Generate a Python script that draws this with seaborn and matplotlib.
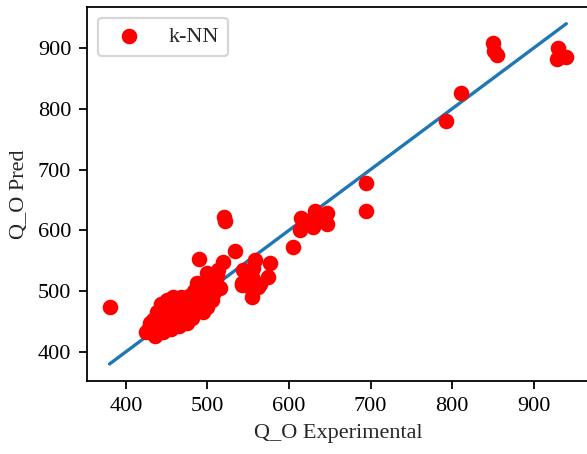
import matplotlib
matplotlib.use("Agg")
import matplotlib.pyplot as plt
import seaborn as sns
import pandas as pd

# Experimental vs predicted values (k-NN)
exp_vals = [
    380,
    850, 851, 855, 930, 929, 940,
    811, 793, 695, 695, 605,
    615, 632, 647, 614, 630, 647, 625, 635,
    520, 521, 534, 490, 519, 558, 577, 544, 555, 574, 543, 562, 555, 516,
    556, 542, 552, 565,
    425, 428, 430, 432, 435, 437, 438, 440, 442, 443, 445, 446, 448, 450,
    450, 452, 455, 456, 458, 460, 462, 463, 465, 467, 468, 470, 472, 474,
    475, 477, 478, 480, 481, 483, 485, 486, 488, 490, 490, 492, 494, 495,
    497, 498, 500, 501, 503, 505, 507, 510, 512, 500, 513, 487, 436, 447,
    455, 462, 470, 433, 438, 452, 466, 479,
]
pred_vals = [
    474,
    908, 895, 888, 900, 882, 885,
    826, 780, 678, 631, 573,
    620, 632, 628, 600, 605, 610, 615, 622,
    622, 615, 566, 552, 548, 551, 546, 535, 523, 523, 510, 507, 490, 505,
    538, 513, 507, 512,
    432, 440, 448, 435, 430, 445, 455, 438, 465, 478, 450, 432, 470, 485,
    445, 460, 438, 475, 490, 452, 465, 482, 443, 470, 490, 455, 478, 462,
    448, 492, 470, 483, 455, 500, 465, 478, 490, 470, 505, 482, 495, 466,
    510, 488, 474, 520, 500, 485, 495, 512, 525, 530, 534, 513, 426, 436,
    445, 450, 447, 452, 465, 478, 488, 460,
]
series_label = "k-NN"
x_label = "Q_O Experimental"
y_label = "Q_O Pred"
x_ticks = [400, 500, 600, 700, 800, 900]
y_ticks = [400, 500, 600, 700, 800, 900]

df = pd.DataFrame({"exp": exp_vals, "pred": pred_vals})
diag = pd.DataFrame({"x": [min(exp_vals), max(exp_vals)],
                     "y": [min(exp_vals), max(exp_vals)]})

sns.set_theme(style="ticks")
plt.rcParams["font.family"] = ["Liberation Serif", "DejaVu Serif"]
plt.rcParams["font.size"] = 10
plt.rcParams["axes.labelsize"] = 10
plt.rcParams["xtick.labelsize"] = 10
plt.rcParams["ytick.labelsize"] = 10
plt.rcParams["legend.fontsize"] = 10
plt.rcParams["axes.linewidth"] = 0.8
plt.rcParams["xtick.major.width"] = 0.8
plt.rcParams["ytick.major.width"] = 0.8
plt.rcParams["xtick.major.size"] = 3.5
plt.rcParams["ytick.major.size"] = 3.5

fig = plt.figure(figsize=(587 / 160, 454 / 160), dpi=160)
ax = fig.add_axes([0.1477, 0.1608, 0.856, 0.8245])

sns.lineplot(data=diag, x="x", y="y", ax=ax, color="#1f77b4", linewidth=1.5,
             zorder=2)
sns.scatterplot(data=df, x="exp", y="pred", ax=ax, color="red", s=36,
                edgecolor="red", linewidth=1, label=series_label, zorder=3)

ax.set_xticks(x_ticks)
ax.set_yticks(y_ticks)
ax.set_xlim(352, 968)
ax.set_ylim(352, 968)
ax.set_xlabel(x_label)
ax.set_ylabel(y_label)
for s in ax.spines.values():
    s.set_color("black")
ax.tick_params(colors="black")
ax.legend(loc="upper left", frameon=True)

fig.savefig("out.png", dpi=160)
